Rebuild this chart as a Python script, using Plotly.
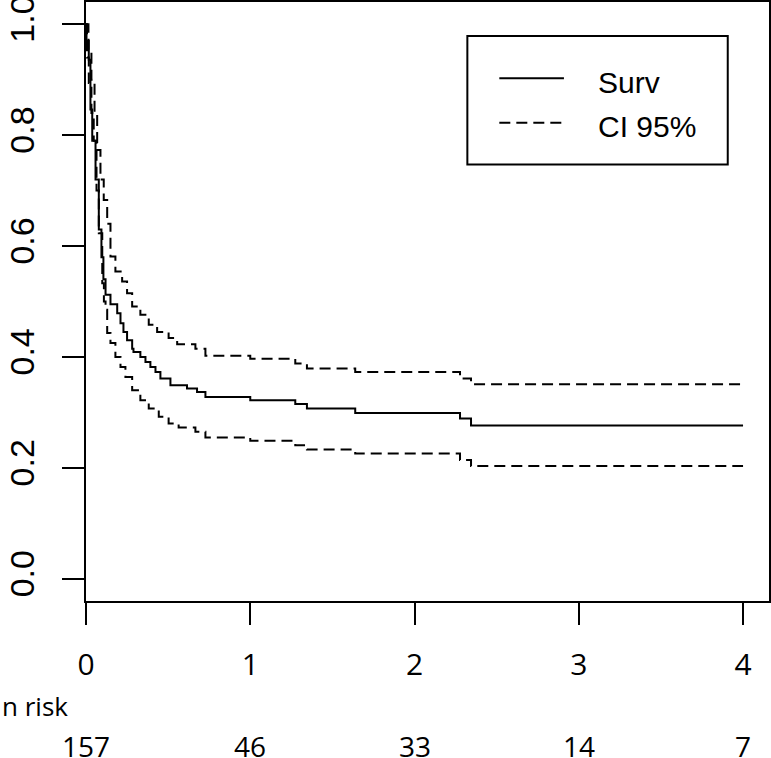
import plotly.graph_objects as go

# ---- data (time in years, survival probability) ----
surv_t = [0, 0.003, 0.017, 0.027, 0.038, 0.058, 0.078, 0.094, 0.106, 0.119, 0.149, 0.19,
          0.21, 0.228, 0.25, 0.281, 0.289, 0.331, 0.362, 0.392, 0.423, 0.453, 0.514,
          0.615, 0.676, 0.727, 1.0, 1.274, 1.345, 1.639, 2.277, 2.344, 4.0]
surv_v = [1.0, 0.97, 0.936, 0.846, 0.79, 0.72, 0.63, 0.58, 0.54, 0.512, 0.495, 0.479,
          0.461, 0.445, 0.43, 0.415, 0.409, 0.40, 0.391, 0.382, 0.373, 0.361, 0.349,
          0.343, 0.337, 0.328, 0.322, 0.315, 0.307, 0.299, 0.289, 0.2765, 0.2765]

upper_t = [0, 0.015, 0.033, 0.052, 0.068, 0.088, 0.108, 0.129, 0.149, 0.179, 0.22, 0.25,
           0.281, 0.331, 0.382, 0.433, 0.503, 0.555, 0.666, 0.727, 1.0, 1.274, 1.345,
           1.639, 2.277, 2.344, 4.0]
upper_v = [1.0, 0.95, 0.90, 0.84, 0.773, 0.72, 0.683, 0.64, 0.581, 0.554, 0.536, 0.515,
           0.491, 0.476, 0.458, 0.445, 0.434, 0.423, 0.415, 0.402, 0.397, 0.388, 0.379,
           0.373, 0.361, 0.351, 0.351]

lower_t = [0, 0.006, 0.017, 0.033, 0.047, 0.064, 0.078, 0.099, 0.109, 0.119, 0.129, 0.149,
           0.179, 0.21, 0.24, 0.281, 0.331, 0.382, 0.443, 0.503, 0.564, 0.666, 0.727,
           1.0, 1.274, 1.345, 1.639, 2.277, 2.344, 4.0]
lower_v = [1.0, 0.94, 0.894, 0.84, 0.79, 0.70, 0.623, 0.533, 0.50, 0.485, 0.443, 0.425,
           0.40, 0.382, 0.364, 0.340, 0.322, 0.307, 0.292, 0.280, 0.273, 0.265, 0.255,
           0.249, 0.241, 0.233, 0.226, 0.214, 0.2036, 0.2036]

risk_times = [0, 1, 2, 3, 4]
risk_counts = [157, 46, 33, 14, 7]

x_ticks = [0, 1, 2, 3, 4]
y_ticks = [0.0, 0.2, 0.4, 0.6, 0.8, 1.0]
y_tick_text = ["0.0", "0.2", "0.4", "0.6", "0.8", "1.0"]

legend_labels = ["Surv", "CI 95%"]

# ---- figure ----
W, H = 771, 758
ML, MR, MT, MB = 85.5, 1.7, 2, 157.3
PW = W - ML - MR
PH = H - MT - MB

def px_x(p):
    return (p - ML) / PW

def px_y(p):
    return (H - MB - p) / PH

DASH = "11px,6px"

fig = go.Figure()
fig.add_trace(go.Scatter(x=upper_t, y=upper_v, mode="lines", line_shape="hv",
                         line=dict(color="black", width=2, dash=DASH), showlegend=False,
                         name=legend_labels[1]))
fig.add_trace(go.Scatter(x=lower_t, y=lower_v, mode="lines", line_shape="hv",
                         line=dict(color="black", width=2, dash=DASH), showlegend=False,
                         name=legend_labels[1]))
fig.add_trace(go.Scatter(x=surv_t, y=surv_v, mode="lines", line_shape="hv",
                         line=dict(color="black", width=2), showlegend=False,
                         name=legend_labels[0]))

# legend drawn like R's legend() box
shapes = [
    dict(type="rect", xref="paper", yref="paper",
         x0=px_x(467.3), x1=px_x(728), y0=px_y(164.3), y1=px_y(36),
         line=dict(color="black", width=2), fillcolor="white"),
    dict(type="line", xref="paper", yref="paper",
         x0=px_x(499.3), x1=px_x(564), y0=px_y(78.3), y1=px_y(78.3),
         line=dict(color="black", width=2)),
    dict(type="line", xref="paper", yref="paper",
         x0=px_x(499.3), x1=px_x(562), y0=px_y(122.7), y1=px_y(122.7),
         line=dict(color="black", width=2, dash=DASH)),
]

annotations = [
    dict(text=legend_labels[0], xref="paper", yref="paper", x=px_x(596), y=px_y(82.5),
         xanchor="left", yanchor="middle", showarrow=False,
         font=dict(family="Liberation Sans", size=30, color="black")),
    dict(text=legend_labels[1], xref="paper", yref="paper", x=px_x(596), y=px_y(126),
         xanchor="left", yanchor="middle", showarrow=False,
         font=dict(family="Liberation Sans", size=30, color="black")),
    dict(text="n risk", xref="paper", yref="paper", x=px_x(69), y=px_y(706),
         xanchor="right", yanchor="middle", showarrow=False,
         font=dict(family="Open Sans", size=26, color="black")),
]
for t, n in zip(risk_times, risk_counts):
    annotations.append(dict(text=str(n), xref="x", yref="paper", x=t, y=px_y(746),
                            xanchor="center", yanchor="middle", showarrow=False,
                            font=dict(family="Open Sans", size=28, color="black")))

fig.update_layout(
    template="none",
    width=W, height=H,
    margin=dict(l=ML, r=MR, t=MT, b=MB, pad=0, autoexpand=False),
    paper_bgcolor="white", plot_bgcolor="white",
    showlegend=False,
    shapes=shapes,
    annotations=annotations,
    xaxis=dict(range=[0, 4.158], tickvals=x_ticks, ticktext=[str(v) for v in x_ticks],
               automargin=False,
               showgrid=False, zeroline=False, showline=True, mirror=True,
               linecolor="black", linewidth=2, ticks="outside", ticklen=22, tickwidth=2,
               tickcolor="black", ticklabelstandoff=14, ticklabeloverflow="allow",
               tickfont=dict(family="Open Sans", size=30, color="black")),
    yaxis=dict(range=[-0.04, 1.04], tickvals=y_ticks, ticktext=y_tick_text,
               automargin=False,
               showgrid=False, zeroline=False, showline=True, mirror=True,
               linecolor="black", linewidth=2, ticks="outside", ticklen=22, tickwidth=2,
               tickcolor="black", tickangle=-90, ticklabelstandoff=14,
               ticklabeloverflow="allow",
               tickfont=dict(family="Liberation Sans", size=34, color="black")),
)

fig.write_html("out.html", config={"displayModeBar": False},
               post_script="document.body.style.margin='0';document.body.style.overflow='hidden';")
